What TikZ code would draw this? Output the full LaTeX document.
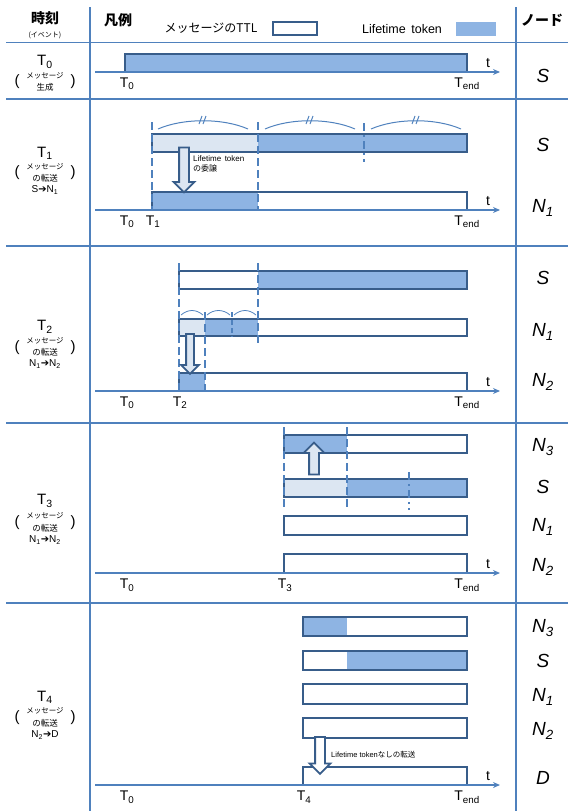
\documentclass[tikz,border=0pt]{standalone}
\usepackage{fontspec}
\setmainfont{Liberation Sans}
\setsansfont{Liberation Sans}
\newfontfamily\jp{Noto Sans CJK JP}
\newfontfamily\sym{DejaVu Sans}
\usetikzlibrary{arrows.meta, shapes.arrows}
\definecolor{lineblue}{HTML}{4F81BD}
\definecolor{bardark}{HTML}{385D8A}
\definecolor{tokmid}{HTML}{8EB4E3}
\definecolor{toklight}{HTML}{DCE6F2}

\begin{document}
\begin{tikzpicture}[x=1pt, y=-1pt,
  tabline/.style={lineblue, line width=1.5pt},
  ttl/.style={draw=bardark, line width=2.6pt},
  tok/.style={fill=tokmid},
  half/.style={fill=toklight},
  cut/.style={lineblue, line width=2.3pt, dash pattern=on 8pt off 4pt},
  cutdot/.style={lineblue, line width=2.3pt, dash pattern=on 8pt off 4pt on 2pt off 4pt},
  tline/.style={lineblue, line width=1.2pt, -{Stealth[length=7pt, width=6pt]}},
  span/.style={lineblue, line width=1pt},
  txt/.style={inner sep=0pt, font=\fontsize{14}{14}\selectfont},
  tlab/.style={txt, anchor=north},
  nodelab/.style={inner sep=0pt, font=\fontsize{19}{19}\selectfont\itshape},
  head/.style={inner sep=0pt, font=\jp\bfseries\fontsize{14}{14}\selectfont},
  tiny/.style={inner sep=0pt, font=\jp\fontsize{7.5}{7.5}\selectfont},
  small/.style={inner sep=0pt, font=\jp\fontsize{8.5}{8.5}\selectfont},
  pair/.style={inner sep=0pt, font=\fontsize{10}{10}\selectfont},
  paren/.style={inner sep=0pt, font=\fontsize{15}{15}\selectfont},
  blockarrow/.style={single arrow, draw=bardark, line width=1.8pt, fill=toklight,
                     single arrow head indent=0pt, minimum width=19pt,
                     single arrow head extend=5.5pt, inner sep=4pt}
]
\useasboundingbox (0,0) rectangle (568,811);

% table
\draw[tabline] (6,42.5) -- (568,42.5);
\draw[tabline] (6,99) -- (568,99);
\draw[tabline] (6,246) -- (568,246);
\draw[tabline] (6,423) -- (568,423);
\draw[tabline] (6,603) -- (568,603);
\draw[tabline] (90,7) -- (90,811);
\draw[tabline] (516,7) -- (516,811);

% header
\node[head] (jikoku) at (45,18) {時刻};
\node[tiny, font=\jp\fontsize{7}{7}\selectfont] (event) at (45,35) {(イベント)};
\node[head] (hanrei) at (118,20) {凡例};
\node[inner sep=0pt, font=\jp\fontsize{12}{12}\selectfont] (ttlname) at (211,28) {メッセージのTTL};
\draw[ttl, line width=2pt] (273,22) rectangle (317,35);
\node[inner sep=0pt, font=\fontsize{12.5}{12.5}\selectfont] (tokname) at (402,29) {Lifetime\, token};
\fill[tokmid] (456,22) rectangle (496,36);
\node[head] (nodo) at (542,20) {ノード};

% T0
\node[txt, font=\fontsize{15}{15}\selectfont] (ev0) at (45,62) {T\textsubscript{0}};
\node[tiny] (ev0a) at (45,76) {メッセージ};
\node[small] (ev0b) at (45,87) {生成};
\node[paren] at (17,82) {(};
\node[paren] at (73,82) {)};
\fill[tok] (125,54) rectangle (467,72);
\draw[ttl] (125,72) -- (125,54) -- (467,54) -- (467,72);
\draw[tline] (95,72) -- (500,72);
\node[txt] at (488,63) {t};
\node[tlab] at (127,78) {T\textsubscript{0}};
\node[tlab] at (467,78) {T\textsubscript{end}};
\node[nodelab] at (543,76) {S};

% T1
\node[txt, font=\fontsize{15}{15}\selectfont] (ev1) at (45,153) {T\textsubscript{1}};
\node[tiny] (ev1a) at (45,167) {メッセージ};
\node[small] (ev1b) at (45,178) {の転送};
\node[pair] (ev1c) at (45,190) {S{\sym ➔}N\textsubscript{1}};
\node[paren] at (17,173) {(};
\node[paren] at (73,173) {)};
\fill[half] (152,134) rectangle (258,152);
\fill[tok] (258,134) rectangle (467,152);
\draw[ttl] (152,134) rectangle (467,152);
\fill[tok] (152,192) rectangle (258,210);
\draw[ttl] (152,210) -- (152,192) -- (467,192) -- (467,210);
\draw[tline] (95,210) -- (500,210);
\draw[cut] (152,122) -- (152,210);
\draw[cut] (258,122) -- (258,210);
\draw[cutdot] (364,123) -- (364,162);
\foreach \a/\b in {158/248, 265/355, 371/461} {
  \draw[span] (\a,129) .. controls ({\a+25},118) and ({\b-25},118) .. (\b,129);
  \draw[span] ({(\a+\b)/2-4},124) -- ({(\a+\b)/2-1},116);
  \draw[span] ({(\a+\b)/2},124) -- ({(\a+\b)/2+3},116);
}
\node[blockarrow, minimum height=45pt, rotate=-90] (deleg) at (184,167.5) {};
\node[inner sep=0pt, anchor=north west, align=left, font=\fontsize{8}{10}\selectfont]
  (deleglab) at (193,156) {Lifetime\, token\\{\jp の委譲}};
\node[txt] at (488,201) {t};
\node[tlab] at (127,216) {T\textsubscript{0}};
\node[tlab] at (153,216) {T\textsubscript{1}};
\node[tlab] at (467,216) {T\textsubscript{end}};
\node[nodelab] at (543,145) {S};
\node[nodelab] at (543,208) {N\textsubscript{1}};

% T2
\node[txt, font=\fontsize{15}{15}\selectfont] (ev2) at (45,327) {T\textsubscript{2}};
\node[tiny] (ev2a) at (45,341) {メッセージ};
\node[small] (ev2b) at (45,352) {の転送};
\node[pair] (ev2c) at (45,364) {N\textsubscript{1}{\sym ➔}N\textsubscript{2}};
\node[paren] at (17,348) {(};
\node[paren] at (73,348) {)};
\fill[tok] (258,271) rectangle (467,289);
\draw[ttl] (179,271) rectangle (467,289);
\fill[half] (179,319) rectangle (205,336);
\fill[tok] (205,319) rectangle (258,336);
\draw[ttl] (179,319) rectangle (467,336);
\fill[tok] (179,373) rectangle (205,391);
\draw[ttl] (179,391) -- (179,373) -- (467,373) -- (467,391);
\draw[tline] (95,391) -- (500,391);
\draw[cut] (179,263) -- (179,392);
\draw[cut] (258,263) -- (258,345);
\draw[cut] (205,312) -- (205,392);
\draw[cut, dash pattern=on 5pt off 3pt] (232,312) -- (232,337);
\foreach \a/\b in {181/203, 207/230, 234/256}
  \draw[span, line width=0.8pt] (\a,315) .. controls ({\a+7},309) and ({\b-7},309) .. (\b,315);
\node[blockarrow, minimum height=40pt, minimum width=16pt, inner sep=3pt,
      single arrow head extend=5pt, rotate=-90] (copy2) at (190,352) {};
\node[txt] at (488,382) {t};
\node[tlab] at (127,397) {T\textsubscript{0}};
\node[tlab] at (180,397) {T\textsubscript{2}};
\node[tlab] at (467,397) {T\textsubscript{end}};
\node[nodelab] at (543,278) {S};
\node[nodelab] at (543,332) {N\textsubscript{1}};
\node[nodelab] at (543,382) {N\textsubscript{2}};

% T3
\node[txt, font=\fontsize{15}{15}\selectfont] (ev3) at (45,501) {T\textsubscript{3}};
\node[tiny] (ev3a) at (45,516) {メッセージ};
\node[small] (ev3b) at (45,528) {の転送};
\node[pair] (ev3c) at (45,540) {N\textsubscript{1}{\sym ➔}N\textsubscript{2}};
\node[paren] at (17,523) {(};
\node[paren] at (73,523) {)};
\fill[tok] (284,435) rectangle (347,453);
\draw[ttl] (284,435) rectangle (467,453);
\fill[half] (284,479) rectangle (347,497);
\fill[tok] (347,479) rectangle (467,497);
\draw[ttl] (284,479) rectangle (467,497);
\draw[ttl] (284,516) rectangle (467,535);
\draw[ttl] (284,573) -- (284,554) -- (467,554) -- (467,573);
\draw[tline] (95,573) -- (500,573);
\draw[cut] (284,427) -- (284,508);
\draw[cut] (347,427) -- (347,508);
\draw[cutdot] (409,472) -- (409,510);
\node[blockarrow, minimum height=32pt, minimum width=18pt, rotate=90] (back3) at (314,461) {};
\node[txt] at (488,564) {t};
\node[tlab] at (127,579) {T\textsubscript{0}};
\node[tlab] at (285,579) {T\textsubscript{3}};
\node[tlab] at (467,579) {T\textsubscript{end}};
\node[nodelab] at (543,447) {N\textsubscript{3}};
\node[nodelab] at (543,487) {S};
\node[nodelab] at (543,527) {N\textsubscript{1}};
\node[nodelab] at (543,567) {N\textsubscript{2}};

% T4
\node[txt, font=\fontsize{15}{15}\selectfont] (ev4) at (45,697) {T\textsubscript{4}};
\node[tiny] (ev4a) at (45,711) {メッセージ};
\node[small] (ev4b) at (45,723) {の転送};
\node[pair] (ev4c) at (45,735) {N\textsubscript{2}{\sym ➔}D};
\node[paren] at (17,718) {(};
\node[paren] at (73,718) {)};
\fill[tok] (303,617) rectangle (347,636);
\draw[ttl] (303,617) rectangle (467,636);
\fill[tok] (347,651) rectangle (467,670);
\draw[ttl] (303,651) rectangle (467,670);
\draw[ttl] (303,684) rectangle (467,704);
\draw[ttl] (303,718) rectangle (467,738);
\draw[ttl] (303,785) -- (303,767) -- (467,767) -- (467,785);
\draw[tline] (95,785) -- (500,785);
\node[blockarrow, fill=white, minimum height=37pt, rotate=-90] (plain4) at (320,753) {};
\node[inner sep=0pt, anchor=west, font=\fontsize{7.5}{7.5}\selectfont]
  (plainlab) at (331,755) {Lifetime token{\jp なしの転送}};
\node[txt] at (488,776) {t};
\node[tlab] at (127,791) {T\textsubscript{0}};
\node[tlab] at (304,791) {T\textsubscript{4}};
\node[tlab] at (467,791) {T\textsubscript{end}};
\node[nodelab] at (543,628) {N\textsubscript{3}};
\node[nodelab] at (543,661) {S};
\node[nodelab] at (543,697) {N\textsubscript{1}};
\node[nodelab] at (543,731) {N\textsubscript{2}};
\node[nodelab] at (543,778) {D};
\end{tikzpicture}
\end{document}
